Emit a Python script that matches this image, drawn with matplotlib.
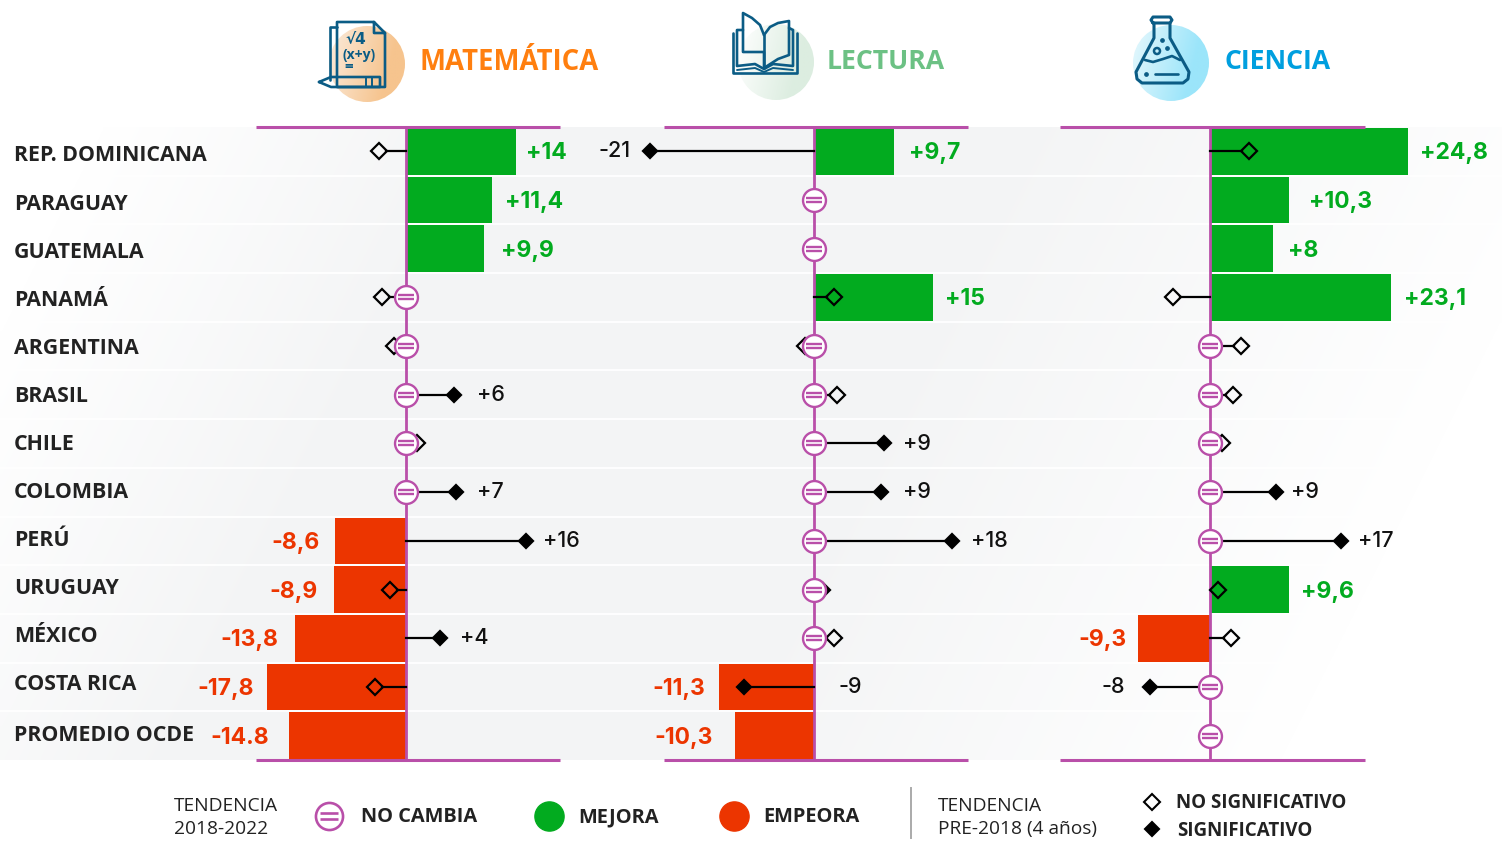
import numpy as np
from matplotlib import pyplot as plt
from matplotlib.colors import LinearSegmentedColormap
from matplotlib.patches import Circle
from matplotlib.path import Path

W, H = 1502, 846

countries = ['REP. DOMINICANA', 'PARAGUAY', 'GUATEMALA', 'PANAMÁ', 'ARGENTINA', 'BRASIL', 'CHILE',
             'COLOMBIA', 'PERÚ', 'URUGUAY', 'MÉXICO', 'COSTA RICA', 'PROMEDIO OCDE']

# bar length, 0 = no change
mat_bars = [13.75, 10.75, 9.75, 0, 0, 0, 0, 0, -8.9, -9, -13.9, -17.4, -14.6]
lec_bars = [10, 0, 0, 14.9, 0, 0, 0, 0, 0, 0, 0, -11.9, -9.9]
cie_bars = [24.75, 9.9, 7.9, 22.6, 0, 0, 0, 0, 0, 9.9, -9, 0, 0]

mat_bar_txt = ['+14', '+11,4', '+9,9', '', '', '', '', '', '-8,6', '-8,9', '-13,8', '-17,8', '-14.8']
lec_bar_txt = ['+9,7', '', '', '+15', '', '', '', '', '', '', '', '-11,3', '-10,3']
cie_bar_txt = ['+24,8', '+10,3', '+8', '+23,1', '', '', '', '', '', '+9,6', '-9,3', '', '']

# diamonds: position on the axis, None = no diamond
mat_trend = [-3.4, None, None, -3, -1.5, 6, 1.4, 6.3, 15, -2, 4.2, -3.9, None]
lec_trend = [-20.5, None, None, 2.5, -1.1, 2.9, 8.8, 8.4, 17.2, 1.1, 2.5, -8.8, None]
cie_trend = [4.9, None, None, -4.6, 3.9, 2.9, 1.5, 8.3, 16.4, 1, 2.6, -7.5, None]

mat_signif = [0, 0, 0, 0, 0, 1, 0, 1, 1, 0, 1, 0, 0]
lec_signif = [1, 0, 0, 0, 0, 0, 1, 1, 1, 1, 0, 1, 0]
cie_signif = [0, 0, 0, 0, 0, 0, 0, 1, 1, 0, 0, 1, 0]

mat_trend_txt = ['', '', '', '', '', '+6', '', '+7', '+16', '', '+4', '', '']
lec_trend_txt = ['-21', '', '', '', '', '', '+9', '+9', '+18', '', '', '-9', '']
cie_trend_txt = ['', '', '', '', '', '', '', '+9', '+17', '', '', '-8', '']

# label gaps in pixels, away from the end of the bar / diamond
mat_bar_gap = [10, 13, 17, 0, 0, 0, 0, 0, 15, 16, 17, 13, 20]
lec_bar_gap = [15, 0, 0, 12, 0, 0, 0, 0, 0, 0, 0, 14, 22]
cie_bar_gap = [12, 20, 15, 13, 0, 0, 0, 0, 0, 12, 11, 0, 0]
mat_trend_gap = [0, 0, 0, 0, 0, 23, 0, 21, 17, 0, 20, 0, 0]
lec_trend_gap = [19, 0, 0, 0, 0, 0, 19, 22, 19, 0, 0, 95, 0]
cie_trend_gap = [0, 0, 0, 0, 0, 0, 0, 15, 17, 0, 0, 25, 0]
# the row names do not sit exactly on the rows
name_shift = [4, 4, 4, 3, 2, 2, 1, 0, 0, -1, -2, -2, 0]

GREEN = '#02AB1F'
RED = '#EC3500'
MAGENTA = '#B94FA9'
ICON = '#0B5C85'
DARK = '#222222'
PX = 8.0  # pixels per point of score

plt.rcParams['font.family'] = ['Open Sans', 'DejaVu Sans']

fig = plt.figure(figsize=(W / 100, H / 100), dpi=100, facecolor='white')


def px_axes(left, right, top, bottom):
    return fig.add_axes([left / W, 1 - bottom / H, (right - left) / W, (bottom - top) / H])


# background, full figure in pixels
bg = px_axes(0, W, 0, H)
bg.axis('off')
xx, yy = np.meshgrid(np.arange(0, W, 4), np.arange(127, 760, 4))
uu = xx + 0.5 * (yy - 127)
shade = np.clip((uu - 100) / 400, 0, 1) * np.clip((1600 - uu) / 600, 0, 1)
bg.imshow(shade, extent=(0, W, 760, 127), cmap=LinearSegmentedColormap.from_list('bg', ['#FFFFFF', '#F3F4F5']),
          vmin=0, vmax=1, aspect='auto', interpolation='bilinear')
bg.set_xlim(0, W)
bg.set_ylim(H, 0)
for i in range(1, len(countries)):
    bg.plot([0, W], [127 + i * 633 / 13] * 2, color='white', lw=1.3)

eq_path = Path([(-0.55, 0.17), (0.55, 0.17), (-0.55, -0.17), (0.55, -0.17)],
               [Path.MOVETO, Path.LINETO, Path.MOVETO, Path.LINETO])


def draw_panel(left, right, zero, bars, bar_txt, bar_gap, trend, signif, trend_txt, trend_gap):
    ax = px_axes(left, right, 127, 760)
    ax.patch.set_visible(False)
    ax.set_xlim((left - zero) / PX, (right - zero) / PX)
    ax.set_ylim(len(bars) - 0.5, -0.5)
    ax.set_xticks([])
    ax.set_yticks([])
    for s in ['left', 'right']:
        ax.spines[s].set_visible(False)
    for s in ['top', 'bottom']:
        ax.spines[s].set_color(MAGENTA)
        ax.spines[s].set_linewidth(2.2)
        ax.spines[s].set_capstyle('butt')
    y = np.arange(len(bars))
    ax.barh(y, bars, height=0.96, color=[GREEN if b > 0 else RED for b in bars], clip_on=False, zorder=2)
    ax.axvline(0, color=MAGENTA, lw=2, zorder=3)
    for i in y:
        if bar_txt[i]:
            sign = 1 if bars[i] > 0 else -1
            ax.annotate(bar_txt[i], (bars[i], i), xytext=(sign * bar_gap[i] * 0.72, -1.4), textcoords='offset points',
                        ha='left' if sign > 0 else 'right', va='center', fontsize=16.5, fontweight='bold',
                        family=['Inter', 'DejaVu Sans'], color=GREEN if sign > 0 else RED, zorder=7,
                        annotation_clip=False)
        if trend[i] is not None:
            t = trend[i]
            sign = 1 if t > 0 else -1
            if abs(t) > 1:
                ax.plot([0, t - sign * 0.9], [i, i], color='black', lw=1.6, zorder=4, clip_on=False)
            ax.plot([t], [i], marker='D', ms=7.6 if signif[i] else 8.4, mec='black', mew=1.6,
                    mfc='black' if signif[i] else 'none', zorder=5, clip_on=False)
        if trend_txt[i]:
            sign = 1 if trend_txt[i][0] == '+' or trend_gap[i] > 50 else -1
            ax.annotate(trend_txt[i], (trend[i], i), xytext=(sign * trend_gap[i] * 0.72, 0),
                        textcoords='offset points', ha='left' if sign > 0 else 'right', va='center',
                        fontsize=15.5, fontweight='medium', family=['Inter', 'DejaVu Sans'], color='#111111',
                        zorder=7, annotation_clip=False)
        if bars[i] == 0:
            ax.plot([0], [i], marker='o', ms=16.5, mec=MAGENTA, mew=1.7, mfc='white', zorder=6, clip_on=False)
            ax.plot([0], [i], marker=eq_path, ms=11.5, mec=MAGENTA, mew=1.7, mfc='none', zorder=6.5, clip_on=False)
    return ax


ax_mat = draw_panel(256, 560, 406, mat_bars, mat_bar_txt, mat_bar_gap, mat_trend, mat_signif, mat_trend_txt,
                    mat_trend_gap)
ax_lec = draw_panel(664, 968, 814, lec_bars, lec_bar_txt, lec_bar_gap, lec_trend, lec_signif, lec_trend_txt,
                    lec_trend_gap)
ax_cie = draw_panel(1060, 1365, 1210, cie_bars, cie_bar_txt, cie_bar_gap, cie_trend, cie_signif, cie_trend_txt,
                    cie_trend_gap)
for i, name in enumerate(countries):
    ax_mat.annotate(name, (0, i), xycoords=('axes fraction', 'data'), xytext=(-242 * 0.72, -name_shift[i] * 0.72),
                    textcoords='offset points', ha='left', va='center', fontsize=15.4, fontweight='bold',
                    color=DARK, annotation_clip=False)

# overlay for the icons, titles and legend, in pixels
ov = px_axes(0, W, 0, H)
ov.patch.set_visible(False)
ov.axis('off')


def blob(cx, cy, r, c1, c2):
    gx, gy = np.meshgrid(np.linspace(0, 1, 60), np.linspace(0, 1, 60))
    im = ov.imshow(gx * 0.8 + gy * 0.2, extent=(cx - r, cx + r, cy + r, cy - r), aspect='auto', vmin=0, vmax=0.75,
                   cmap=LinearSegmentedColormap.from_list('b', [c1, c2]), zorder=1)
    im.set_clip_path(Circle((cx, cy), r, transform=ov.transData))


def icon_line(xs, ys, lw=1.9):
    ov.plot(xs, ys, color=ICON, lw=lw, zorder=2, solid_capstyle='round', solid_joinstyle='round')


blob(367, 64, 38, '#FBEBDC', '#F6C48E')
blob(776, 62, 38, '#FFFFFF', '#DCEDE0')
blob(1171, 63, 38, '#E6F8FD', '#9BE5FA')

# math sheet
icon_line([374, 337, 337, 385, 385, 374, 374, 385], [22, 22, 87, 87, 33, 22, 33, 33])
icon_line([337, 330, 330], [27, 27, 80])
icon_line([319, 331, 380, 380, 331, 319], [82, 77, 77, 87, 87, 82])
icon_line([366, 366], [77, 87], 1.4)
icon_line([372, 372], [77, 87], 1.4)
ov.text(356, 40, '√4', fontsize=11, fontweight='bold', color=ICON, ha='center', va='center', zorder=3,
        family=['DejaVu Sans'])
ov.text(359, 55, '(x+y)', fontsize=10, fontweight='bold', color=ICON, ha='center', va='center', zorder=3)
ov.text(349, 67, '=', fontsize=11, fontweight='bold', color=ICON, ha='center', va='center', zorder=3)

# book
icon_line([764, 764, 743, 743, 752, 760, 764], [68, 52, 52, 13, 18, 25, 35])
icon_line([764, 764], [35, 68])
icon_line([764, 770, 778, 789, 789, 778, 764], [35, 27, 23, 21, 55, 59, 68])
icon_line([743, 737, 737, 755, 764, 773, 793, 793, 789], [30, 30, 66, 64, 69, 64, 66, 30, 28])
icon_line([733, 733, 797, 797], [33, 73, 73, 33])
icon_line([737, 755, 764, 773, 793], [70, 68, 72, 68, 70], 1.4)

# flask
icon_line([1153, 1151, 1153, 1170, 1172, 1170, 1153], [23, 20, 17, 17, 20, 23, 23], 2.2)
icon_line([1154, 1154, 1136, 1137, 1142, 1183, 1188, 1189, 1170, 1170],
          [23, 38, 72, 79, 83, 83, 79, 72, 38, 23], 2.2)
icon_line([1145, 1153, 1163, 1172, 1180], [60, 62, 59, 56, 60])
icon_line([1155, 1178], [74, 74])
ov.add_patch(Circle((1157, 51), 3, fc='none', ec=ICON, lw=1.8, zorder=3))
ov.plot([1162, 1167, 1146], [40, 48, 74], ls='none', marker='o', ms=2.4, color=ICON, zorder=3)

ov.text(420, 62, 'MATEMÁTICA', fontsize=19.8, fontweight='bold', color='#FF7F0F', va='center')
ov.text(827, 62, 'LECTURA', fontsize=19.2, fontweight='bold', color='#6CC184', va='center')
ov.text(1224, 62, 'CIENCIA', fontsize=19.2, fontweight='bold', color='#009FDF', va='center')

# legend
for x, lines in [(174, ['TENDENCIA', '2018-2022']), (938, ['TENDENCIA', 'PRE-2018 (4 años)'])]:
    for y, line in zip([806, 829], lines):
        ov.text(x, y, line, fontsize=13.8, color=DARK, va='center')
ov.plot([329], [816], marker='o', ms=19.5, mec=MAGENTA, mew=1.9, mfc='white')
ov.plot([329], [816], marker=eq_path, ms=13, mec=MAGENTA, mew=1.9, mfc='none')
ov.plot([549], [816], marker='o', ms=21, color=GREEN)
ov.plot([734], [816], marker='o', ms=21, color=RED)
for x, label in [(361, 'NO CAMBIA'), (578, 'MEJORA'), (763, 'EMPEORA')]:
    ov.text(x, 817, label, fontsize=14.4, fontweight='bold', color=DARK, va='center')
ov.plot([911, 911], [788, 838], color='#AAAAAA', lw=1.4)
ov.plot([1152], [802], marker='D', ms=8, mec='black', mew=1.5, mfc='none')
ov.plot([1152], [829], marker='D', ms=7, mec='black', mew=1.5, mfc='black')
ov.text(1176, 803, 'NO SIGNIFICATIVO', fontsize=13.5, fontweight='bold', color=DARK, va='center')
ov.text(1177, 831, 'SIGNIFICATIVO', fontsize=13.5, fontweight='bold', color=DARK, va='center')
ov.set_xlim(0, W)
ov.set_ylim(H, 0)

fig.savefig('out.png', dpi=100)
